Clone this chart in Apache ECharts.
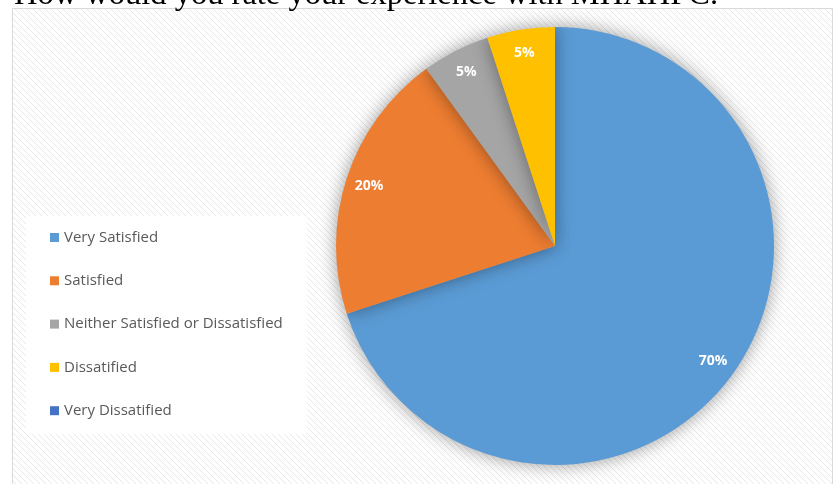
<!DOCTYPE html>
<html>
<head>
<meta charset="utf-8"/>
<script src="https://cdn.jsdelivr.net/npm/echarts@6/dist/echarts.min.js"></script>
<style>
  html, body { margin: 0; padding: 0; background: #fff; }
</style>
</head>
<body>
<div id="main" style="width: 839px;height: 484px;"></div>
<script>
// survey answers
var categories = ['Very Satisfied', 'Satisfied', 'Neither Satisfied or Dissatisfied', 'Dissatified', 'Very Dissatified'];
var shares = [70, 20, 5, 5, 0];
var colors = ['#5b9bd5', '#ed7d31', '#a5a5a5', '#ffc000', '#4472c4'];
var titleText = 'How would you rate your experience with MHAHPC.';

// striped background like the office chart area
var stripe = document.createElement('canvas');
stripe.width = 6;
stripe.height = 6;
var ctx = stripe.getContext('2d');
ctx.fillStyle = '#ffffff';
ctx.fillRect(0, 0, 6, 6);
ctx.strokeStyle = '#e8e8e8';
ctx.lineWidth = 1;
ctx.beginPath();
ctx.moveTo(-1, -1); ctx.lineTo(7, 7);
ctx.moveTo(-1, 5); ctx.lineTo(1, 7);
ctx.moveTo(5, -1); ctx.lineTo(7, 1);
ctx.stroke();

var pieData = categories.map(function (name, i) {
  return { name: name, value: shares[i], itemStyle: { color: colors[i] } };
});

var myChart = echarts.init(document.getElementById('main'));
myChart.setOption({
  backgroundColor: '#ffffff',
  color: colors,
  animation: false,
  graphic: [
    {
      type: 'rect',
      z: -10,
      shape: { x: 12.5, y: 8.5, width: 820, height: 490 },
      style: { fill: { image: stripe, repeat: 'repeat' }, stroke: '#d9d9d9', lineWidth: 1 }
    },
    {
      type: 'text',
      left: 14,
      top: -21,
      style: { text: titleText, font: '32.5px "Liberation Serif"', fill: '#000' }
    }
  ],
  legend: {
    orient: 'vertical',
    left: 26,
    top: 216,
    icon: 'rect',
    itemWidth: 9,
    itemHeight: 9,
    itemGap: 28.3,
    padding: [14, 24, 16, 24],
    backgroundColor: 'rgba(255,255,255,0.9)',
    selectedMode: false,
    textStyle: { fontFamily: 'Open Sans', fontSize: 15, color: '#595959' },
    data: categories
  },
  series: [
    {
      type: 'pie',
      center: [555, 246],
      radius: 219,
      startAngle: 90,
      clockwise: true,
      label: { show: false },
      labelLine: { show: false },
      itemStyle: { shadowBlur: 18, shadowColor: 'rgba(0,0,0,0.4)' },
      emphasis: { disabled: true },
      data: pieData
    },
    {
      type: 'pie',
      center: [555, 246],
      radius: [166, 219],
      startAngle: 90,
      clockwise: true,
      silent: true,
      itemStyle: { color: 'rgba(0,0,0,0)' },
      label: {
        position: 'inside',
        color: '#fff',
        fontFamily: 'Open Sans',
        fontWeight: 'bold',
        fontSize: 14,
        formatter: function (p) { return p.value > 0 ? p.value + '%' : ''; }
      },
      labelLine: { show: false },
      emphasis: { disabled: true },
      data: categories.map(function (name, i) {
        return { name: name, value: shares[i] };
      })
    }
  ]
});
</script>
</body>
</html>
